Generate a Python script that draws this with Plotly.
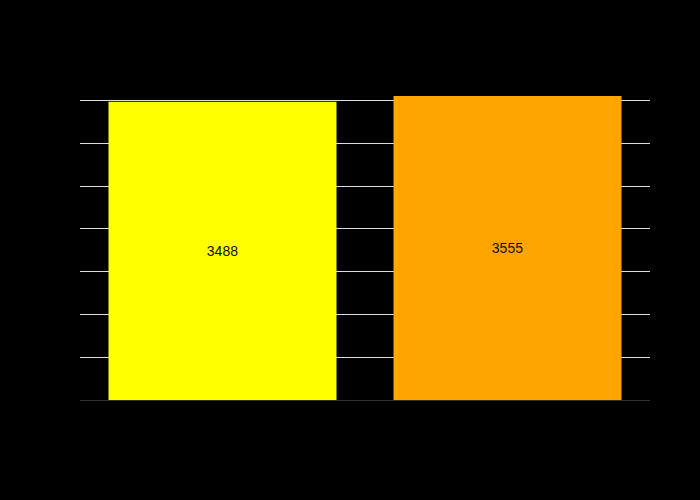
import plotly.graph_objects as go

categories = ["A", "B"]
values = [3488, 3555]
colors = ["yellow", "orange"]

fig = go.Figure(
    go.Bar(
        x=categories,
        y=values,
        text=[str(v) for v in values],
        textposition="inside",
        insidetextanchor="middle",
        textfont=dict(color="#111", size=14, family="Arial"),
        marker=dict(color=colors, line=dict(width=0)),
    )
)
fig.update_layout(
    template="none",
    width=700,
    height=500,
    paper_bgcolor="black",
    plot_bgcolor="black",
    font=dict(color="black"),
    margin=dict(l=80, r=50, t=80, b=100),
    showlegend=False,
)
fig.update_yaxes(gridcolor="#dddddd", zerolinecolor="#333333", dtick=500, tickfont=dict(color="black"))
fig.update_xaxes(showgrid=False, tickfont=dict(color="black"))
fig.write_html("out.html")
